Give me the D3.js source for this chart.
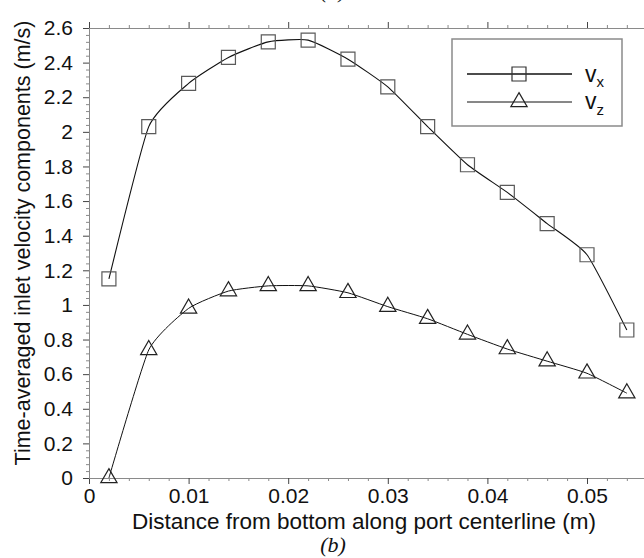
<!DOCTYPE html>
<html>
<head>
<meta charset="utf-8">
<script src="https://cdn.jsdelivr.net/npm/d3@7"></script>
<style>
  body { margin: 0; background: #fff; }
  svg { display: block; }
  text { font-family: "Liberation Sans", Arial, sans-serif; fill: #111; }
</style>
</head>
<body>
<svg id="chart" width="644" height="558"></svg>
<script>
/*Data*/
var distance = [0.002, 0.006, 0.010, 0.014, 0.018, 0.022, 0.026, 0.030, 0.034, 0.038, 0.042, 0.046, 0.050, 0.054];
var vx = [1.15, 2.03, 2.28, 2.43, 2.52, 2.53, 2.42, 2.26, 2.03, 1.81, 1.65, 1.47, 1.29, 0.855];
var vz = [0.0, 0.74, 0.98, 1.08, 1.11, 1.11, 1.07, 0.99, 0.92, 0.83, 0.745, 0.675, 0.605, 0.49];
var xMajorTicks = [0, 0.01, 0.02, 0.03, 0.04, 0.05];
var yMajorTicks = [0, 0.2, 0.4, 0.6, 0.8, 1, 1.2, 1.4, 1.6, 1.8, 2, 2.2, 2.4, 2.6];
var xTitle = "Distance from bottom along port centerline (m)";
var yTitle = "Time-averaged inlet velocity components (m/s)";

var svg = d3.select("#chart");

//plot frame (no "top" name: it clashes with window.top)
var plotLeft = 89, plotTop = 28, plotBottom = 478, plotRight = 644;

var x = d3.scaleLinear().domain([0, (plotRight - plotLeft) / 9960]).range([plotLeft, plotRight]);
var y = d3.scaleLinear().domain([0, 2.6]).range([plotBottom, plotTop]);

//minor ticks
var xMinor = d3.range(0, 0.0551, 0.002).filter(function(d){ return Math.abs(d / 0.01 - Math.round(d / 0.01)) > 1e-6; });
var yMinor = d3.range(0, 2.601, 0.04).filter(function(d){ return Math.abs(d / 0.2 - Math.round(d / 0.2)) > 1e-6; });

function styleAxis(g, color){
  g.select(".domain").attr("stroke", "#8a8a8a").attr("stroke-width", 1);
  g.selectAll(".tick line").attr("stroke", color);
  g.selectAll(".tick text").attr("font-size", 21).attr("fill", "#111")
    .attr("font-family", "Liberation Sans, Arial, sans-serif");
}

/* minor ticks first, then majors */
var gxMin = svg.append("g").attr("transform", "translate(0," + plotBottom + ")")
  .call(d3.axisBottom(x).tickValues(xMinor).tickSize(3).tickFormat(""));
styleAxis(gxMin, "#8a8a8a");
var gx = svg.append("g").attr("transform", "translate(0," + plotBottom + ")")
  .call(d3.axisBottom(x).tickValues(xMajorTicks).tickSize(6).tickPadding(4)
    .tickFormat(function(d){ return d === 0 ? "0" : d3.format(".2f")(d); }));
styleAxis(gx, "#444");

var gtMin = svg.append("g").attr("transform", "translate(0," + plotTop + ")")
  .call(d3.axisTop(x).tickValues(xMinor).tickSize(3).tickFormat(""));
styleAxis(gtMin, "#8a8a8a");
var gt = svg.append("g").attr("transform", "translate(0," + plotTop + ")")
  .call(d3.axisTop(x).tickValues(xMajorTicks).tickSize(6).tickFormat(""));
styleAxis(gt, "#444");

var gyMin = svg.append("g").attr("transform", "translate(" + plotLeft + ",0)")
  .call(d3.axisLeft(y).tickValues(yMinor).tickSize(3).tickFormat(""));
styleAxis(gyMin, "#8a8a8a");
var gy = svg.append("g").attr("transform", "translate(" + plotLeft + ",0)")
  .call(d3.axisLeft(y).tickValues(yMajorTicks).tickSize(6).tickPadding(10)
    .tickFormat(function(d){ return d3.format("~g")(d); }));
styleAxis(gy, "#444");

/* axis titles */
svg.append("text")
  .attr("x", 364).attr("y", 529)
  .attr("text-anchor", "middle").attr("font-size", 22.5)
  .text(xTitle);

svg.append("text")
  .attr("transform", "translate(30,243) rotate(-90)")
  .attr("text-anchor", "middle").attr("font-size", 21.5)
  .text(yTitle);

/* panel captions: (b) below, the bottom of (a) from the panel above */
svg.append("text")
  .attr("x", 333).attr("y", 552)
  .attr("text-anchor", "middle").attr("font-size", 22)
  .style("font-family", "Liberation Serif, Times New Roman, serif")
  .style("font-style", "italic")
  .text("(b)");
svg.append("text")
  .attr("x", 333).attr("y", -2)
  .attr("text-anchor", "middle").attr("font-size", 22)
  .style("font-family", "Liberation Serif, Times New Roman, serif")
  .style("font-style", "italic")
  .text("(a)");

/* series */
var line = d3.line()
  .x(function(d){ return x(d[0]); })
  .y(function(d){ return y(d[1]); })
  .curve(d3.curveCardinal.tension(0.5));

var vxPts = distance.map(function(d, i){ return [d, vx[i]]; });
var vzPts = distance.map(function(d, i){ return [d, vz[i]]; });

svg.append("path").datum(vxPts).attr("d", line)
  .attr("fill", "none").attr("stroke", "#111").attr("stroke-width", 1.1);
svg.append("path").datum(vzPts).attr("d", line)
  .attr("fill", "none").attr("stroke", "#111").attr("stroke-width", 1);

var square = d3.symbol().type(d3.symbolSquare).size(196);
var triangle = d3.symbol().type(d3.symbolTriangle).size(115);

svg.append("g").selectAll("path").data(vxPts).enter().append("path")
  .attr("d", square)
  .attr("transform", function(d){ return "translate(" + x(d[0]) + "," + y(d[1]) + ")"; })
  .attr("fill", "none").attr("stroke", "#5a5a5a").attr("stroke-width", 1.2);

svg.append("g").selectAll("path").data(vzPts).enter().append("path")
  .attr("d", triangle)
  .attr("transform", function(d){ return "translate(" + x(d[0]) + "," + y(d[1]) + ")"; })
  .attr("fill", "none").attr("stroke", "#222").attr("stroke-width", 1.2);

/* legend */
var legend = svg.append("g");
legend.append("rect")
  .attr("x", 452).attr("y", 39).attr("width", 170).attr("height", 87)
  .attr("fill", "#fff").attr("stroke", "#8a8a8a").attr("stroke-width", 1.5);

legend.append("line").attr("x1", 467).attr("x2", 572).attr("y1", 74).attr("y2", 74)
  .attr("stroke", "#111").attr("stroke-width", 1.5);
legend.append("path").attr("d", square).attr("transform", "translate(519,74)")
  .attr("fill", "none").attr("stroke", "#333").attr("stroke-width", 1.2);

legend.append("line").attr("x1", 467).attr("x2", 572).attr("y1", 102).attr("y2", 102)
  .attr("stroke", "#111").attr("stroke-width", 1);
legend.append("path").attr("d", triangle).attr("transform", "translate(519,102)")
  .attr("fill", "none").attr("stroke", "#222").attr("stroke-width", 1.2);

var lx = legend.append("text").attr("x", 585).attr("y", 82).attr("font-size", 23);
lx.append("tspan").text("v");
lx.append("tspan").attr("font-size", 15).attr("dy", 5).text("x");

var lz = legend.append("text").attr("x", 585).attr("y", 109).attr("font-size", 23);
lz.append("tspan").text("v");
lz.append("tspan").attr("font-size", 15).attr("dy", 6).text("z");
</script>
</body>
</html>
